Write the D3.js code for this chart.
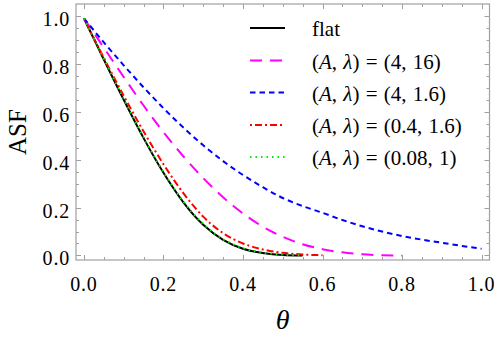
<!DOCTYPE html>
<html>
<head>
<meta charset="utf-8">
<script src="https://cdn.jsdelivr.net/npm/d3@7"></script>
<style>
  html, body { margin: 0; padding: 0; background: #fff; }
  svg { display: block; }
</style>
</head>
<body>
<svg id="chart"></svg>
<script>
// theta sample points (x axis)
const theta = [0, 0.05, 0.10, 0.15, 0.20, 0.25, 0.30, 0.35, 0.40, 0.45, 0.50, 0.55, 0.60, 0.65, 0.70, 0.75, 0.80, 0.85, 0.90, 0.95, 1.00];

// ASF values (series stop where the curve stops)
const flat = [0.99, 0.818, 0.650, 0.490, 0.345, 0.222, 0.128, 0.065, 0.028, 0.010, 0.002, 0.0];
const a4l16 = [0.99, 0.868, 0.745, 0.626, 0.515, 0.414, 0.323, 0.243, 0.175, 0.120, 0.078, 0.047, 0.026, 0.013, 0.005, 0.001, 0.0];
const a4l16b = [0.99, 0.890, 0.794, 0.702, 0.615, 0.534, 0.460, 0.394, 0.336, 0.285, 0.240, 0.206, 0.178, 0.148, 0.122, 0.100, 0.081, 0.066, 0.053, 0.040, 0.028];
const a04l16 = [0.99, 0.825, 0.667, 0.518, 0.381, 0.260, 0.162, 0.093, 0.050, 0.025, 0.011, 0.004, 0.001];
const a008l1 = [0.99, 0.821, 0.653, 0.493, 0.348, 0.225, 0.131, 0.068, 0.030, 0.012, 0.003, 0.0];

const xTicks = [0.0, 0.2, 0.4, 0.6, 0.8, 1.0];
const yTicks = [0.0, 0.2, 0.4, 0.6, 0.8, 1.0];

const series = [
    { name: "flat", values: flat, color: "#000000", dash: null },
    { name: ["(", "A", ", ", "λ", ") = (4, 16)"], values: a4l16, color: "#ff00ff", dash: "12,8" },
    { name: ["(", "A", ", ", "λ", ") = (4, 1.6)"], values: a4l16b, color: "#0000ff", dash: "5.5,4" },
    { name: ["(", "A", ", ", "λ", ") = (0.4, 1.6)"], values: a04l16, color: "#ff0000", dash: "2,3,7,3" },
    { name: ["(", "A", ", ", "λ", ") = (0.08, 1)"], values: a008l1, color: "#00ee00", dash: "1.5,4" }
];

const width = 498;
const height = 341;
const frame = { left: 76, right: 489.5, top: 4, bottom: 260 };
const serif = "'Liberation Serif', 'Times New Roman', serif";

const svg = d3.select("#chart")
    .attr("width", width)
    .attr("height", height)
    .attr("font-family", serif);

const x = d3.scaleLinear().domain([-0.02, 1.02]).range([frame.left, frame.right]);
const y = d3.scaleLinear().domain([-0.019, 1.05]).range([frame.bottom, frame.top]);

const frameColor = "#a0a0a0";
const minorX = d3.range(0, 1.0001, 0.05);
const minorY = d3.range(0, 1.0001, 0.05);

// ticks on all four sides, pointing inward
const axisG = svg.append("g").attr("stroke", frameColor).attr("stroke-width", 1);
minorX.forEach(v => {
    const len = xTicks.some(t => Math.abs(t - v) < 1e-6) ? 5 : 3;
    const px = Math.round(x(v)) + 0.5;
    axisG.append("line").attr("x1", px).attr("x2", px).attr("y1", frame.bottom).attr("y2", frame.bottom - len);
    axisG.append("line").attr("x1", px).attr("x2", px).attr("y1", frame.top).attr("y2", frame.top + len);
});
minorY.forEach(v => {
    const len = yTicks.some(t => Math.abs(t - v) < 1e-6) ? 5 : 3;
    const py = Math.round(y(v)) + 0.5;
    axisG.append("line").attr("y1", py).attr("y2", py).attr("x1", frame.left).attr("x2", frame.left + len);
    axisG.append("line").attr("y1", py).attr("y2", py).attr("x1", frame.right).attr("x2", frame.right - len);
});

svg.append("rect")
    .attr("x", frame.left)
    .attr("y", frame.top)
    .attr("width", frame.right - frame.left)
    .attr("height", frame.bottom - frame.top)
    .attr("fill", "none")
    .attr("stroke", frameColor)
    .attr("stroke-width", 1.2);

// tick labels
svg.append("g").selectAll("text")
    .data(xTicks)
    .enter()
    .append("text")
    .attr("x", d => x(d))
    .attr("y", 291)
    .attr("text-anchor", "middle")
    .attr("font-size", 20)
    .attr("letter-spacing", 0.8)
    .text(d => d.toFixed(1));

svg.append("g").selectAll("text")
    .data(yTicks)
    .enter()
    .append("text")
    .attr("x", 70)
    .attr("y", d => y(d) + 3)
    .attr("dy", "0.35em")
    .attr("text-anchor", "end")
    .attr("font-size", 20)
    .attr("letter-spacing", 0.8)
    .text(d => d.toFixed(1));

// axis titles
svg.append("text")
    .attr("x", (frame.left + frame.right) / 2)
    .attr("y", 329)
    .attr("text-anchor", "middle")
    .attr("font-size", 28)
    .attr("font-style", "italic")
    .text("θ");

svg.append("text")
    .attr("transform", `translate(26, ${(frame.top + frame.bottom) / 2}) rotate(-90)`)
    .attr("text-anchor", "middle")
    .attr("font-size", 25)
    .text("ASF");

// curves
svg.append("clipPath").attr("id", "clip")
    .append("rect")
    .attr("x", frame.left).attr("y", frame.top)
    .attr("width", frame.right - frame.left).attr("height", frame.bottom - frame.top);

const line = d3.line()
    .x((d, i) => x(theta[i]))
    .y(d => y(d))
    .curve(d3.curveMonotoneX);

const curves = svg.append("g").attr("clip-path", "url(#clip)");
series.forEach(s => {
    curves.append("path")
        .attr("d", line(s.values))
        .attr("fill", "none")
        .attr("stroke", s.color)
        .attr("stroke-width", 2)
        .attr("stroke-dasharray", s.dash);
});

// legend
const legendRows = [28, 60.5, 92.5, 125, 157];
const legend = svg.append("g");
series.forEach((s, i) => {
    const ly = legendRows[i];
    legend.append("line")
        .attr("x1", 250).attr("x2", 285)
        .attr("y1", ly).attr("y2", ly)
        .attr("stroke", s.color)
        .attr("stroke-width", 2)
        .attr("stroke-dasharray", s.dash);
    const t = legend.append("text")
        .attr("x", 312)
        .attr("y", ly + 8)
        .attr("font-size", 21)
        .attr("word-spacing", 1);
    if (typeof s.name === "string") {
        t.text(s.name);
    } else {
        s.name.forEach((part, k) => {
            t.append("tspan")
                .attr("font-style", (k === 1 || k === 3) ? "italic" : "normal")
                .text(part);
        });
    }
});
</script>
</body>
</html>
